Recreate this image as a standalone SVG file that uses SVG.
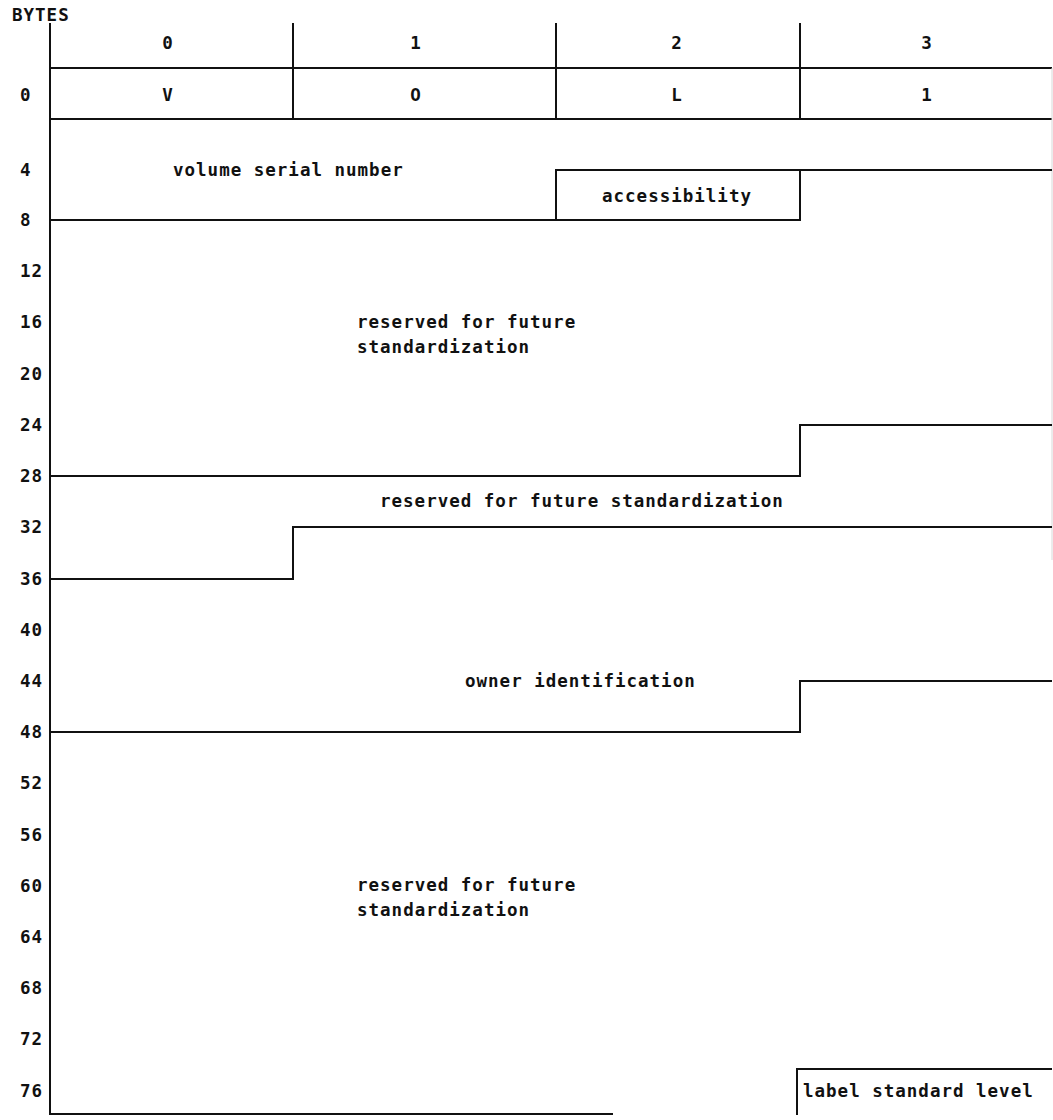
<svg xmlns="http://www.w3.org/2000/svg" width="1053" height="1120" viewBox="0 0 1053 1120">
<style>
  text { font-family: "DejaVu Sans Mono", "Liberation Mono", monospace; font-size: 17.5px; font-weight: bold; fill: #111; letter-spacing: 1px; }
  .c { text-anchor: middle; }
  .ln { stroke: #111; stroke-width: 2; fill: none; stroke-linecap: square; }
  .faint { stroke: #d8d8d8; stroke-width: 1; fill: none; }
</style>
<rect width="1053" height="1120" fill="#fff"/>
<g id="axis">
  <text x="12" y="21">BYTES</text>
  <text x="20" y="101">0</text>
  <text x="20" y="176">4</text>
  <text x="20" y="226">8</text>
  <text x="20" y="277">12</text>
  <text x="20" y="328">16</text>
  <text x="20" y="380">20</text>
  <text x="20" y="431">24</text>
  <text x="20" y="482">28</text>
  <text x="20" y="533">32</text>
  <text x="20" y="585">36</text>
  <text x="20" y="636">40</text>
  <text x="20" y="687">44</text>
  <text x="20" y="738">48</text>
  <text x="20" y="789">52</text>
  <text x="20" y="841">56</text>
  <text x="20" y="892">60</text>
  <text x="20" y="943">64</text>
  <text x="20" y="994">68</text>
  <text x="20" y="1045">72</text>
  <text x="20" y="1097">76</text>
</g>
<g id="header">
  <text class="c" x="168" y="49">0</text>
  <text class="c" x="416" y="49">1</text>
  <text class="c" x="677" y="49">2</text>
  <text class="c" x="927" y="49">3</text>
</g>
<g id="lines">
  <path class="ln" d="M50,24 V1114"/>
  <path class="ln" d="M293,24 V119 M556,24 V119 M800,24 V119"/>
  <path class="ln" d="M50,68 H1051 M50,119 H1051"/>
  <path class="faint" d="M1052,68 V560"/>
</g>
<g id="row0">
  <text class="c" x="168" y="101">V</text>
  <text class="c" x="416" y="101">O</text>
  <text class="c" x="677" y="101">L</text>
  <text class="c" x="927" y="101">1</text>
</g>
<g id="volume-serial-number">
  <path class="ln" d="M1051,170 H556 V220 H50"/>
  <text x="173" y="176">volume serial number</text>
</g>
<g id="accessibility">
  <path class="ln" d="M556,220 H800 V170"/>
  <text class="c" x="677" y="202">accessibility</text>
</g>
<g id="reserved-1">
  <path class="ln" d="M1051,425 H800 V476 H50"/>
  <text x="357" y="328">reserved for future</text>
  <text x="357" y="353">standardization</text>
</g>
<g id="reserved-2">
  <path class="ln" d="M1051,527 H293 V579 H50"/>
  <text x="380" y="507">reserved for future standardization</text>
</g>
<g id="owner-identification">
  <path class="ln" d="M1051,681 H800 V732 H50"/>
  <text x="465" y="687">owner identification</text>
</g>
<g id="reserved-3">
  <path class="ln" d="M50,1114 H612"/>
  <text x="357" y="891">reserved for future</text>
  <text x="357" y="916">standardization</text>
</g>
<g id="label-standard-level">
  <path class="ln" d="M1051,1069 H797 V1114"/>
  <text x="803" y="1097">label standard level</text>
</g>
</svg>
